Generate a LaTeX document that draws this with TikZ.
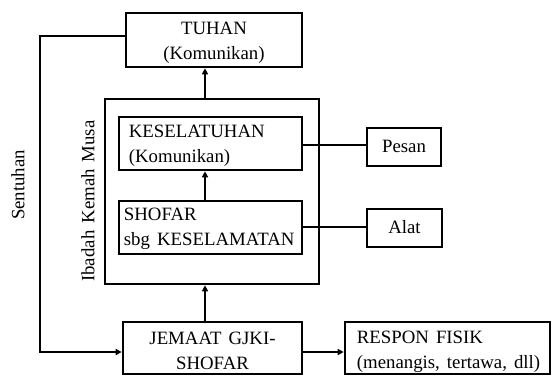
\documentclass[tikz,border=0pt]{standalone}
\usepackage{fontspec}
\setmainfont[WordSpace=1.5]{Liberation Serif}
\usetikzlibrary{arrows.meta}
\begin{document}
\begin{tikzpicture}[x=1pt,y=-1pt,
  box/.style={draw,line width=2.6pt,inner sep=0pt},
  lbl/.style={font=\fontsize{18.8}{25}\selectfont,inner sep=0pt},
  conn/.style={line width=2pt},
  arr/.style={line width=2.6pt,-{Triangle[length=6pt,width=6pt]}}]
\useasboundingbox (0,0) rectangle (552,376);
\node[box,minimum width=176pt,minimum height=54pt] (tuhan) at (214,40) {};
\node[box,minimum width=214pt,minimum height=185pt] (outer) at (212,191.5) {};
\node[box,minimum width=183pt,minimum height=53pt] (kes) at (210.5,143.5) {};
\node[box,minimum width=183pt,minimum height=53pt] (shofar) at (210.5,227.5) {};
\node[box,minimum width=74pt,minimum height=38pt] (pesan) at (404,147) {};
\node[box,minimum width=75pt,minimum height=38pt] (alat) at (404.5,228) {};
\node[box,minimum width=179pt,minimum height=52pt] (jemaat) at (212.5,348) {};
\node[box,minimum width=205pt,minimum height=52pt] (respon) at (447.5,348) {};
% texts
\node[lbl,align=center] (tuhanT) at ([yshift=-3pt]tuhan.center) {TUHAN\\(Komunikan)};
\node[lbl,align=left,anchor=west] (kesT) at ([xshift=11pt,yshift=-2pt]kes.west) {KESELATUHAN\\(Komunikan)};
\node[lbl,align=left,anchor=west] (shofarT) at ([xshift=6pt,yshift=-1.5pt]shofar.west) {SHOFAR\\sbg KESELAMATAN};
\node[lbl] (pesanT) at ([yshift=1pt]pesan.center) {Pesan};
\node[lbl] (alatT) at ([yshift=1pt]alat.center) {Alat};
\node[lbl,align=center] (jemaatT) at ([yshift=-2.5pt]jemaat.center) {JEMAAT GJKI-\\SHOFAR};
\node[lbl,align=left,anchor=west] (responT) at ([xshift=13pt,yshift=-4pt]respon.west) {RESPON FISIK\\(menangis, tertawa, dll)};
\node[lbl,rotate=90] (sentuhan) at (18,185) {Sentuhan};
\node[lbl,rotate=90] (ibadah) at (88,201) {Ibadah Kemah Musa};
\coordinate (ax) at (205,0);
\coordinate (ly) at (0,352);
\coordinate (ty) at (0,36);
\coordinate (lx) at (40,0);
\draw[arr] (ax |- outer.north) -- (ax |- tuhan.south);
\draw[arr] (ax |- shofar.north) -- (ax |- kes.south);
\draw[arr] (ax |- jemaat.north) -- (ax |- outer.south);
\draw[conn] (kes.east |- 0,145) -- (pesan.west |- 0,145);
\draw[conn] (shofar.east |- 0,227) -- (alat.west |- 0,227);
\draw[arr] (jemaat.east |- ly) -- (respon.west |- ly);
\draw[arr] (tuhan.west |- ty) -- (lx |- ty) -- (lx |- ly) -- (jemaat.west |- ly);
\end{tikzpicture}
\end{document}
